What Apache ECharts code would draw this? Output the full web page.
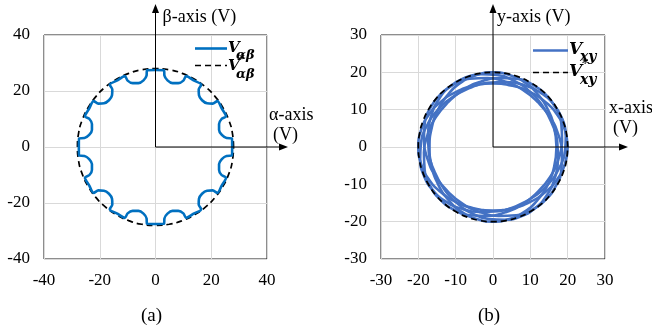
<!DOCTYPE html>
<html>
<head>
<meta charset="utf-8">
<script src="https://cdn.jsdelivr.net/npm/echarts@6/dist/echarts.min.js"></script>
<style>
  html, body { margin: 0; padding: 0; background: #fff; }
  #chart { width: 652px; height: 327px; }
</style>
</head>
<body>
<div id="chart"></div>
<script>
// ---- Tick labels of both panels ----
const ticksA = [-40, -20, 0, 20, 40];
const ticksB = [-30, -20, -10, 0, 10, 20, 30];

// ---- Panel (a): measured alpha-beta voltage trajectory (V) ----
const vAlphaBeta = [
  [27.5, 0], [27.4, 3.1], [25.5, 3.2], [23.8, 4.3], [22.8, 6.1], [22.8, 8.2], [23.7, 10.0], [25.3, 11.0],
  [23.8, 13.7], [22.2, 16.4], [20.5, 15.5], [18.5, 15.6], [16.7, 16.7], [15.6, 18.5], [15.5, 20.5], [16.4, 22.2],
  [13.7, 23.8], [11.0, 25.3], [10.0, 23.7], [8.2, 22.8], [6.1, 22.8], [4.3, 23.8], [3.2, 25.5], [3.1, 27.4],
  [0, 27.5], [-3.1, 27.4], [-3.2, 25.5], [-4.3, 23.8], [-6.1, 22.8], [-8.2, 22.8], [-10.0, 23.7], [-11.0, 25.3],
  [-13.7, 23.8], [-16.4, 22.2], [-15.5, 20.5], [-15.6, 18.5], [-16.7, 16.7], [-18.5, 15.6], [-20.5, 15.5], [-22.2, 16.4],
  [-23.8, 13.7], [-25.3, 11.0], [-23.7, 10.0], [-22.8, 8.2], [-22.8, 6.1], [-23.8, 4.3], [-25.5, 3.2], [-27.4, 3.1],
  [-27.5, 0], [-27.4, -3.1], [-25.5, -3.2], [-23.8, -4.3], [-22.8, -6.1], [-22.8, -8.2], [-23.7, -10.0], [-25.3, -11.0],
  [-23.8, -13.7], [-22.2, -16.4], [-20.5, -15.5], [-18.5, -15.6], [-16.7, -16.7], [-15.6, -18.5], [-15.5, -20.5], [-16.4, -22.2],
  [-13.7, -23.8], [-11.0, -25.3], [-10.0, -23.7], [-8.2, -22.8], [-6.1, -22.8], [-4.3, -23.8], [-3.2, -25.5], [-3.1, -27.4],
  [0, -27.5], [3.1, -27.4], [3.2, -25.5], [4.3, -23.8], [6.1, -22.8], [8.2, -22.8], [10.0, -23.7], [11.0, -25.3],
  [13.7, -23.8], [16.4, -22.2], [15.5, -20.5], [15.6, -18.5], [16.7, -16.7], [18.5, -15.6], [20.5, -15.5], [22.2, -16.4],
  [23.8, -13.7], [25.3, -11.0], [23.7, -10.0], [22.8, -8.2], [22.8, -6.1], [23.8, -4.3], [25.5, -3.2], [27.4, -3.1],
  [27.5, 0]
];

// ---- Panel (a): reference alpha-beta voltage (V) ----
const vAlphaBetaRef = [
  [28, 0], [27.6, 4.9], [26.3, 9.6], [24.2, 14], [21.4, 18], [18, 21.4], [14, 24.2], [9.6, 26.3], [4.9, 27.6],
  [0, 28], [-4.9, 27.6], [-9.6, 26.3], [-14, 24.2], [-18, 21.4], [-21.4, 18], [-24.2, 14], [-26.3, 9.6], [-27.6, 4.9],
  [-28, 0], [-27.6, -4.9], [-26.3, -9.6], [-24.2, -14], [-21.4, -18], [-18, -21.4], [-14, -24.2], [-9.6, -26.3], [-4.9, -27.6],
  [0, -28], [4.9, -27.6], [9.6, -26.3], [14, -24.2], [18, -21.4], [21.4, -18], [24.2, -14], [26.3, -9.6], [27.6, -4.9],
  [28, 0]
];

// ---- Panel (b): measured x-y voltage, six successive loops (V) ----
const vXyLoop1 = [
  [20, 0], [19.3, 4.4], [17.3, 8.5], [14.1, 12.0], [10, 14.7], [5.2, 16.4], [0, 17], [-5.2, 16.4], [-10, 14.7],
  [-14.1, 12.0], [-17.3, 8.5], [-19.3, 4.4], [-20, 0], [-19.3, -4.4], [-17.3, -8.5], [-14.1, -12.0], [-10, -14.7],
  [-5.2, -16.4], [0, -17], [5.2, -16.4], [10, -14.7], [14.1, -12.0], [17.3, -8.5], [19.3, -4.4], [20, 0]
];
const vXyLoop2 = [
  [18.5, 7.7], [16.2, 11.5], [12.8, 14.5], [8.5, 16.5], [3.6, 17.4], [-1.5, 17.2], [-6.5, 15.7], [-11.1, 13.2],
  [-14.9, 9.8], [-17.7, 5.7], [-19.3, 1.2], [-19.5, -3.3], [-18.5, -7.7], [-16.2, -11.5], [-12.8, -14.5],
  [-8.5, -16.5], [-3.6, -17.4], [1.5, -17.2], [6.5, -15.7], [11.1, -13.2], [14.9, -9.8], [17.7, -5.7],
  [19.3, -1.2], [19.5, 3.3], [18.5, 7.7]
];
const vXyLoop3 = [
  [14.1, 14.1], [10.5, 16.8], [6.2, 18.3], [1.5, 18.5], [-3.3, 17.5], [-8.0, 15.3], [-12.0, 12.0], [-15.3, 8.0],
  [-17.5, 3.3], [-18.5, -1.5], [-18.3, -6.2], [-16.8, -10.5], [-14.1, -14.1], [-10.5, -16.8], [-6.2, -18.3],
  [-1.5, -18.5], [3.3, -17.5], [8.0, -15.3], [12.0, -12.0], [15.3, -8.0], [17.5, -3.3], [18.5, 1.5], [18.3, 6.2],
  [16.8, 10.5], [14.1, 14.1]
];
const vXyLoop4 = [
  [17, 0], [16.4, 5.2], [14.7, 10], [12.0, 14.1], [8.5, 17.3], [4.4, 19.3], [0, 20], [-4.4, 19.3], [-8.5, 17.3],
  [-12.0, 14.1], [-14.7, 10], [-16.4, 5.2], [-17, 0], [-16.4, -5.2], [-14.7, -10], [-12.0, -14.1], [-8.5, -17.3],
  [-4.4, -19.3], [0, -20], [4.4, -19.3], [8.5, -17.3], [12.0, -14.1], [14.7, -10], [16.4, -5.2], [17, 0]
];
const vXyLoop5 = [
  [-7.7, 18.5], [-11.5, 16.2], [-14.5, 12.8], [-16.5, 8.5], [-17.4, 3.6], [-17.2, -1.5], [-15.7, -6.5],
  [-13.2, -11.1], [-9.8, -14.9], [-5.7, -17.7], [-1.2, -19.3], [3.3, -19.5], [7.7, -18.5], [11.5, -16.2],
  [14.5, -12.8], [16.5, -8.5], [17.4, -3.6], [17.2, 1.5], [15.7, 6.5], [13.2, 11.1], [9.8, 14.9], [5.7, 17.7],
  [1.2, 19.3], [-3.3, 19.5], [-7.7, 18.5]
];
const vXyLoop6 = [
  [-14.1, 14.1], [-16.8, 10.5], [-18.3, 6.2], [-18.5, 1.5], [-17.5, -3.3], [-15.3, -8.0], [-12.0, -12.0],
  [-8.0, -15.3], [-3.3, -17.5], [1.5, -18.5], [6.2, -18.3], [10.5, -16.8], [14.1, -14.1], [16.8, -10.5],
  [18.3, -6.2], [18.5, -1.5], [17.5, 3.3], [15.3, 8.0], [12.0, 12.0], [8.0, 15.3], [3.3, 17.5], [-1.5, 18.5],
  [-6.2, 18.3], [-10.5, 16.8], [-14.1, 14.1]
];

// ---- Panel (b): reference x-y voltage (V) ----
const vXyRef = [
  [20, 0], [19.7, 3.5], [18.8, 6.8], [17.3, 10], [15.3, 12.9], [12.9, 15.3], [10, 17.3], [6.8, 18.8], [3.5, 19.7],
  [0, 20], [-3.5, 19.7], [-6.8, 18.8], [-10, 17.3], [-12.9, 15.3], [-15.3, 12.9], [-17.3, 10], [-18.8, 6.8], [-19.7, 3.5],
  [-20, 0], [-19.7, -3.5], [-18.8, -6.8], [-17.3, -10], [-15.3, -12.9], [-12.9, -15.3], [-10, -17.3], [-6.8, -18.8], [-3.5, -19.7],
  [0, -20], [3.5, -19.7], [6.8, -18.8], [10, -17.3], [12.9, -15.3], [15.3, -12.9], [17.3, -10], [18.8, -6.8], [19.7, -3.5],
  [20, 0]
];

// ---- Styling / layout ----
const SERIF = '"Liberation Serif", "Times New Roman", serif';
const MATH = '"DejaVu Serif", serif';
const BLUE_A = '#0070C0';
const BLUE_B = '#4472C4';
const GRID_LINE = '#d9d9d9';
const FRAME = '#1a1a1a';
const gridA = { left: 44, top: 35, width: 223, height: 224 };
const gridB = { left: 381, top: 35, width: 224, height: 224 };
// pixel reach of the origin arrows
const arrowA = { tipX: 288, tipY: 4 };
const arrowB = { tipX: 628, tipY: 4 };

function valueAxis(ticks, gridIndex, isX) {
  return {
    type: 'value',
    gridIndex: gridIndex,
    min: ticks[0],
    max: ticks[ticks.length - 1],
    interval: ticks[1] - ticks[0],
    axisLine: { show: false },
    axisTick: { show: false },
    splitLine: { show: true, lineStyle: { color: GRID_LINE, width: 1 } },
    axisLabel: {
      fontFamily: SERIF,
      fontSize: 17,
      color: '#000',
      margin: isX ? 13 : 14
    }
  };
}

const chart = echarts.init(document.getElementById('chart'), null, { renderer: 'canvas' });

chart.setOption({
  animation: false,
  backgroundColor: '#fff',
  grid: [
    Object.assign({ show: true, borderColor: FRAME, borderWidth: 1, backgroundColor: 'transparent' }, gridA),
    Object.assign({ show: true, borderColor: FRAME, borderWidth: 1, backgroundColor: 'transparent' }, gridB)
  ],
  xAxis: [valueAxis(ticksA, 0, true), valueAxis(ticksB, 1, true)],
  yAxis: [valueAxis(ticksA, 0, false), valueAxis(ticksB, 1, false)],
  series: [
    {
      name: 'V*αβ', type: 'line', xAxisIndex: 0, yAxisIndex: 0, data: vAlphaBetaRef,
      symbol: 'none', smooth: true, z: 3,
      lineStyle: { color: '#000', width: 1.7, type: [6, 4] }
    },
    {
      name: 'Vαβ', type: 'line', xAxisIndex: 0, yAxisIndex: 0, data: vAlphaBeta,
      symbol: 'none', smooth: 0.3, z: 4,
      lineStyle: { color: BLUE_A, width: 2.6 }
    },
    ...[vXyLoop1, vXyLoop2, vXyLoop3, vXyLoop4, vXyLoop5, vXyLoop6].map(function (loop) {
      return {
        name: 'Vxy', type: 'line', xAxisIndex: 1, yAxisIndex: 1, data: loop,
        symbol: 'none', smooth: true, z: 3,
        lineStyle: { color: BLUE_B, width: 2.6 }
      };
    }),
    {
      name: 'V*xy', type: 'line', xAxisIndex: 1, yAxisIndex: 1, data: vXyRef,
      symbol: 'none', smooth: true, z: 4,
      lineStyle: { color: '#000', width: 1.7, type: [6, 4] }
    }
  ]
});

// Origin arrows, axis titles, legend and captions
const oA = chart.convertToPixel({ gridIndex: 0 }, [0, 0]);
const oB = chart.convertToPixel({ gridIndex: 1 }, [0, 0]);

function arrow(x1, y1, x2, y2) {
  const horiz = y1 === y2;
  const head = horiz
    ? [[x2, y2], [x2 - 9, y2 - 3.5], [x2 - 9, y2 + 3.5]]
    : [[x2, y2], [x2 - 3.5, y2 + 9], [x2 + 3.5, y2 + 9]];
  return [
    { type: 'line', z: 50, silent: true,
      shape: { x1: x1, y1: y1, x2: horiz ? x2 - 6 : x2, y2: horiz ? y2 : y2 + 6 },
      style: { stroke: '#000', lineWidth: 1 } },
    { type: 'polygon', z: 50, silent: true, shape: { points: head }, style: { fill: '#000' } }
  ];
}

function txt(x, y, text, font, align) {
  return {
    type: 'text', z: 60, silent: true, x: x, y: y,
    style: { text: text, font: font, fill: '#000', verticalAlign: 'middle', align: align || 'left' }
  };
}

const axisFont = '18px ' + SERIF;
const legFontA = 'bold italic 15px ' + MATH;
const subFontA = 'bold italic 13px ' + MATH;
const legFontB = 'bold italic 17px ' + MATH;
const subFontB = 'bold italic 14px ' + MATH;

const graphics = [].concat(
  arrow(oA[0], oA[1], arrowA.tipX, oA[1]),
  arrow(oA[0], oA[1], oA[0], arrowA.tipY),
  arrow(oB[0], oB[1], arrowB.tipX, oB[1]),
  arrow(oB[0], oB[1], oB[0], arrowB.tipY),
  [
    txt(oA[0] + 7, 17, 'β-axis (V)', axisFont),
    txt(269, 115, 'α-axis', axisFont),
    txt(273, 135, '(V)', axisFont),
    txt(oB[0] + 4, 17, 'y-axis (V)', axisFont),
    txt(609, 108, 'x-axis', axisFont),
    txt(613, 128, '(V)', axisFont),

    // legend of panel (a)
    { type: 'line', z: 60, silent: true, shape: { x1: 195, y1: 48.5, x2: 227, y2: 48.5 },
      style: { stroke: BLUE_A, lineWidth: 2.6 } },
    txt(228, 48.5, 'V', legFontA),
    txt(236, 55.5, 'αβ', subFontA),
    { type: 'line', z: 60, silent: true, shape: { x1: 195, y1: 65.5, x2: 227, y2: 65.5 },
      style: { stroke: '#000', lineWidth: 1.7, lineDash: [6, 4] } },
    txt(228, 66.5, 'V', legFontA),
    txt(239, 59, '*', 'bold 11px ' + MATH),
    txt(236, 74.5, 'αβ', subFontA),

    // legend of panel (b)
    { type: 'line', z: 60, silent: true, shape: { x1: 533, y1: 50.5, x2: 568, y2: 50.5 },
      style: { stroke: BLUE_B, lineWidth: 2.6 } },
    txt(569, 50, 'V', legFontB),
    txt(580, 57.5, 'xy', subFontB),
    { type: 'line', z: 60, silent: true, shape: { x1: 533, y1: 72.5, x2: 568, y2: 72.5 },
      style: { stroke: '#000', lineWidth: 1.7, lineDash: [6, 4] } },
    txt(569, 72, 'V', legFontB),
    txt(582, 64.5, '*', 'bold 12px ' + MATH),
    txt(580, 80.5, 'xy', subFontB),

    // panel captions
    txt(oA[0] - 4, 316, '(a)', '19px ' + SERIF, 'center'),
    txt(oB[0] - 4, 316, '(b)', '19px ' + SERIF, 'center')
  ]
);

chart.setOption({ graphic: graphics });
</script>
</body>
</html>
